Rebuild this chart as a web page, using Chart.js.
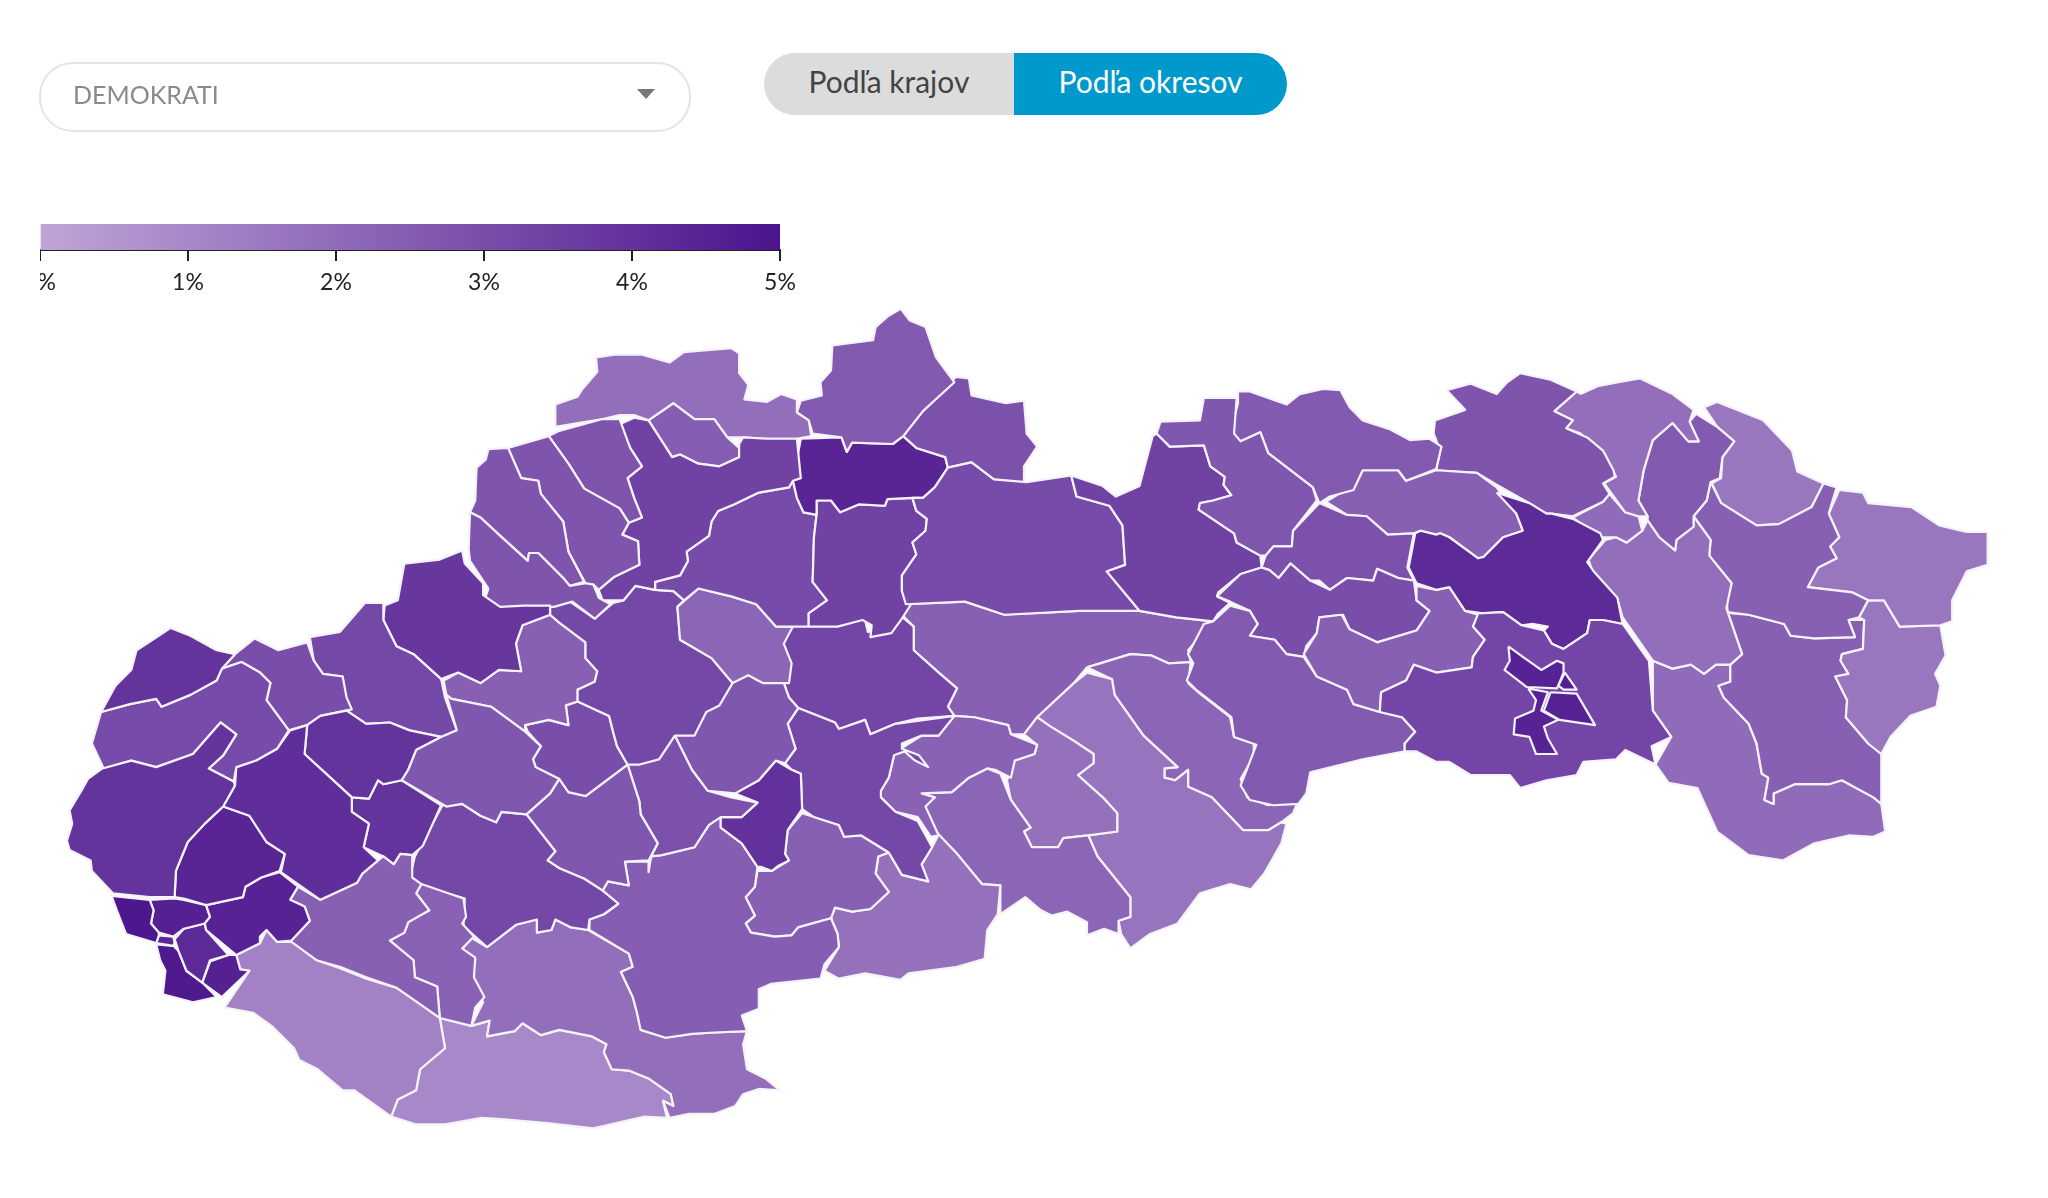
<!DOCTYPE html>
<html lang="sk">
<head>
<meta charset="utf-8">
<title>Demokrati podľa okresov</title>
<script src="https://cdn.jsdelivr.net/npm/chart.js@4"></script>
<style>
  html, body { margin: 0; padding: 0; background: #fff; width: 2048px; height: 1198px; overflow: hidden; font-family: Lato, sans-serif; }
  #mapChart { position: absolute; left: 0; top: 0; filter: blur(0.5px); }
  .select { position: absolute; left: 39px; top: 62px; width: 648px; height: 66px; border: 2px solid #e4e4e4; border-radius: 34px; color: #8a8a8a; font-size: 25px; line-height: 60px; text-indent: 32px; }
  .select::after { content: ""; position: absolute; left: 596px; top: 25px; border-left: 9px solid transparent; border-right: 9px solid transparent; border-top: 10px solid #777; }
  .toggle { position: absolute; left: 764px; top: 53px; width: 523px; height: 62px; border-radius: 31px; overflow: hidden; display: flex; font-size: 30px; line-height: 56px; text-align: center; }
  .toggle div:first-child { width: 250px; background: #dcdcdc; color: #444; }
  .toggle div:last-child { width: 273px; background: #0099cc; color: #fff; }
  #legendClip { position: absolute; left: 40px; top: 215px; width: 770px; height: 85px; overflow: hidden; }
  #legendChart { position: absolute; left: -30px; top: 0; }
</style>
</head>
<body>
<canvas id="mapChart" width="2048" height="1198"></canvas>
<div class="select">DEMOKRATI</div>
<div class="toggle"><div>Podľa krajov</div><div>Podľa okresov</div></div>
<div id="legendClip"><canvas id="legendChart" width="800" height="120"></canvas></div>
<script>
// Legend scale
const legendTicks = [0, 1, 2, 3, 4, 5];
const rampLow = [190, 165, 215];
const rampHigh = [75, 20, 140];

// Districts, their share (%) and outlines as x,y pairs in map units, top-most first
const districts = [
  'Košice I', 'Košice II', 'Košice III', 'Košice IV', 'Košice-okolie', 'Prešov-juh', 'Gelnica', 'Rožňava', 'Spišská Nová Ves', 'Levoča',
  'Kežmarok', 'Stará Ľubovňa', 'Sabinov', 'Prešov', 'Poprad', 'Liptovský Mikuláš', 'Bardejov', 'Svidník', 'Stropkov', 'Vranov nad Topľou',
  'Humenné', 'Medzilaborce', 'Snina', 'Sobrance', 'Michalovce', 'Trebišov', 'Malacky', 'Skalica', 'Senica', 'Trnava',
  'Pezinok', 'Senec', 'Bratislava IV', 'Bratislava III', 'Bratislava I', 'Bratislava II', 'Bratislava V', 'Bratislava VI', 'Dunajská Streda', 'Galanta',
  'Šaľa', 'Hlohovec', 'Piešťany', 'Leopoldov', 'Myjava', 'Nové Mesto nad Váhom', 'Trenčín', 'Ilava', 'Púchov', 'Považská Bystrica',
  'Bytča', 'Žilina', 'Kysucké Nové Mesto', 'Čadca', 'Námestovo', 'Tvrdošín', 'Dolný Kubín', 'Ružomberok', 'Martin', 'Turčianske Teplice',
  'Prievidza', 'Bánovce nad Bebravou', 'Partizánske', 'Nitra', 'Zlaté Moravce', 'Žarnovica', 'Žiar nad Hronom', 'Banská Štiavnica', 'Banská Bystrica', 'Brezno',
  'Levice', 'Nové Zámky', 'Komárno', 'Krupina', 'Veľký Krtíš', 'Detva', 'Lučenec', 'Poltár', 'Rimavská Sobota', 'Revúca', 'Zvolen'
];
const shares = [
  4.5, 4.6, 4.5, 4.5, 3.3, 4.2, 2.4, 2.6, 3.0, 2.9,
  2.7, 2.6, 2.4, 2.8, 3.4, 3.1, 1.9, 2.6, 2.0, 1.9,
  2.4, 1.6, 1.6, 1.6, 2.4, 2.0, 3.9, 3.9, 3.1, 4.1,
  4.4, 4.5, 4.9, 4.6, 4.3, 4.2, 4.8, 4.6, 1.2, 2.4,
  2.3, 2.7, 3.9, 3.9, 3.0, 3.2, 3.8, 2.8, 2.8, 2.8,
  2.8, 3.4, 2.5, 1.9, 2.6, 2.9, 4.4, 3.4, 3.1, 2.2,
  3.2, 2.4, 3.0, 3.2, 2.7, 2.9, 2.7, 4.0, 3.2, 3.3,
  2.5, 1.9, 1.0, 2.4, 1.8, 2.3, 2.2, 1.8, 1.7, 2.2, 2.4
];
const outlines = [
  [1149,492,1160,500,1174,510,1186,503,1191,505,1191,512,1186,524,1163,523,1146,510,1150,503],
  [1192,512,1201,525,1191,525,1187,522],
  [1181,527,1201,528,1215,552,1188,548,1176,541],
  [1164,524,1179,527,1174,541,1187,548,1176,553,1179,562,1186,574,1170,574,1165,561,1153,559,1154,547,1168,541,1170,533],
  [1051,542,1052,527,1071,518,1077,506,1094,512,1121,508,1122,500,1131,487,1122,477,1126,467,1145,466,1159,476,1176,480,1182,490,1191,494,1209,482,1211,472,1221,472,1236,475,1256,503,1259,541,1273,561,1258,568,1261,582,1238,571,1231,578,1206,580,1201,590,1178,594,1158,600,1150,590,1120,590,1104,580,1094,580,1079,572,1070,572,1070,566,1078,557,1068,546],
  [1140,375,1165,383,1178,391,1182,391,1198,395,1219,406,1221,411,1209,428,1214,435,1232,455,1236,475,1221,472,1211,472,1209,482,1191,494,1182,490,1176,480,1179,477,1168,475,1159,476,1145,466,1130,467,1116,465,1104,447,1094,449,1079,444,1073,432,1078,406,1082,404,1094,407,1097,406,1104,409,1126,425,1130,424,1145,409,1160,404,1155,391],
  [993,498,1003,482,1005,470,1022,468,1028,479,1049,489,1079,480,1089,465,1079,457,1079,446,1094,449,1104,447,1116,465,1126,468,1122,477,1131,487,1122,500,1121,508,1094,512,1077,506,1071,518,1052,527,1051,542,1031,536,1026,525,1003,515],
  [937,461,952,465,958,475,952,484,971,487,980,498,993,500,1003,515,1026,525,1031,536,1051,542,1068,546,1078,557,1070,566,1070,572,1038,578,998,588,995,604,989,612,970,613,952,609,945,598,957,567,940,561,938,546,911,525,904,518,909,505,905,498,917,475,924,473],
  [927,454,945,437,961,432,967,434,974,440,983,429,998,442,1013,449,1026,440,1046,442,1049,433,1065,440,1077,442,1079,457,1089,465,1079,480,1049,489,1028,479,1023,468,1005,470,1003,482,995,492,993,500,980,498,971,487,952,484,958,475,952,465,937,458],
  [1005,383,1026,392,1041,393,1057,407,1077,406,1072,432,1077,442,1065,440,1049,433,1046,442,1026,440,1013,449,1005,442,998,442,983,429,974,440,967,434,961,432,964,423,970,416,984,416,985,404],
  [881,330,884,321,914,320,917,303,942,303,940,330,945,336,960,329,966,345,1000,371,1003,381,985,404,984,416,970,416,964,423,960,423,942,413,940,406,913,388,914,383,924,381,938,377,932,369,933,363,922,355,917,339,891,340],
  [943,298,952,298,980,308,990,300,1008,296,1021,297,1028,310,1038,320,1059,327,1074,335,1089,334,1098,340,1094,357,1071,366,1065,358,1038,358,1031,373,1013,378,1005,383,1000,371,966,345,960,329,945,336,937,330,943,307],
  [1010,382,1033,368,1038,358,1065,358,1071,366,1094,358,1125,360,1140,371,1155,391,1160,404,1145,409,1130,424,1126,425,1104,409,1097,406,1094,407,1082,404,1077,406,1057,407,1041,393,1026,392],
  [1092,330,1093,320,1116,312,1102,297,1120,292,1140,300,1148,291,1158,284,1181,289,1201,298,1184,313,1198,320,1193,326,1209,333,1221,343,1229,358,1230,363,1221,368,1226,376,1221,382,1198,393,1182,391,1178,391,1165,383,1140,369,1125,360,1094,358,1097,343],
  [816,362,840,370,850,378,868,370,878,332,881,330,891,340,917,339,922,355,933,363,932,369,938,377,924,381,914,383,913,388,940,406,942,413,960,423,961,432,945,437,928,451,927,454,937,459,928,467,924,473,896,470,868,465,843,435,857,430,855,400,845,385,820,378],
  [722,356,740,352,757,365,782,367,816,362,820,378,845,385,855,400,857,430,843,435,868,465,822,465,765,468,735,458,690,460,687,450,687,438,698,422,695,413,705,404,706,395,698,389,695,379,703,379,712,371],
  [1204,300,1217,294,1233,291,1249,288,1274,300,1290,312,1287,321,1294,336,1286,336,1274,322,1259,335,1252,358,1248,381,1255,393,1248,393,1238,390,1222,368,1231,363,1222,345,1207,333,1204,330,1193,326,1198,320,1184,313,1201,298],
  [1274,322,1286,336,1294,336,1287,321,1292,315,1308,325,1321,336,1312,348,1310,364,1303,367,1300,381,1290,393,1290,401,1277,411,1276,419,1264,409,1255,396,1255,393,1248,381,1252,358,1259,335],
  [1198,394,1221,382,1226,376,1238,390,1248,393,1251,404,1239,413,1231,409,1219,409],
  [1223,411,1231,409,1239,413,1251,404,1255,396,1264,409,1276,419,1277,411,1290,401,1290,393,1303,411,1302,423,1319,444,1315,463,1327,498,1318,506,1307,506,1298,513,1288,506,1274,509,1259,503,1236,470,1232,456,1213,435,1210,426],
  [1303,367,1311,383,1338,400,1355,399,1380,386,1389,368,1399,371,1393,391,1401,409,1394,416,1399,425,1385,432,1377,447,1411,451,1423,457,1416,470,1408,472,1413,485,1382,486,1364,484,1359,475,1332,468,1316,466,1315,454,1319,444,1302,423,1303,411,1290,393,1300,381],
  [1298,310,1308,306,1343,320,1365,343,1369,359,1389,368,1380,386,1355,399,1338,400,1311,383,1304,368,1311,364,1312,348,1321,336,1308,325],
  [1401,373,1419,375,1423,383,1456,386,1477,400,1498,405,1514,405,1514,430,1498,435,1487,457,1487,473,1478,476,1447,477,1435,457,1423,457,1411,451,1377,447,1385,432,1399,425,1394,416,1401,409,1393,391],
  [1423,457,1435,457,1447,477,1478,476,1482,499,1474,513,1478,522,1475,538,1455,545,1440,561,1433,574,1423,566,1406,546,1407,533,1398,515,1408,513,1402,503,1403,498,1419,494,1420,472,1416,470],
  [1319,467,1332,468,1359,475,1364,484,1382,486,1413,485,1408,472,1420,472,1419,494,1403,498,1402,503,1408,513,1398,515,1407,533,1406,546,1423,566,1433,574,1433,612,1427,607,1403,594,1393,597,1367,597,1351,604,1351,612,1344,609,1347,592,1342,589,1338,566,1332,551,1313,531,1309,522,1318,519,1318,506,1327,498,1315,463],
  [1259,503,1274,509,1288,506,1298,513,1307,506,1318,506,1318,519,1309,522,1313,531,1332,551,1338,566,1342,589,1347,592,1344,609,1351,612,1351,604,1367,597,1393,597,1403,594,1427,607,1433,612,1436,633,1427,637,1408,636,1382,642,1358,655,1332,651,1308,633,1293,600,1271,596,1261,582,1273,561,1259,541],
  [78,585,100,579,119,584,147,574,168,550,180,559,170,575,159,585,178,595,179,598,170,614,156,627,143,641,134,663,133,683,114,683,86,680,70,663,69,655,53,647,51,640,55,627,53,617,62,602,67,593],
  [77,542,88,522,100,510,104,495,118,486,130,478,145,484,165,495,179,498,169,509,165,518,145,529,123,538,119,532,99,536],
  [77,542,99,536,119,532,123,538,145,529,165,518,169,509,184,504,198,512,206,520,203,533,220,556,211,570,195,579,180,584,178,595,159,585,170,575,180,559,168,550,147,574,119,584,100,579,79,585,70,566],
  [234,552,232,574,268,607,268,618,281,627,277,645,288,655,276,665,272,672,244,685,214,664,217,650,203,641,190,621,170,614,179,598,180,584,195,579,211,570,221,556],
  [170,614,190,621,203,641,217,650,213,663,199,668,187,675,185,683,157,689,140,684,133,683,134,663,143,641,156,627],
  [213,664,227,675,221,685,232,690,236,701,222,716,211,717,203,708,198,713,198,718,180,727,157,708,156,703,160,698,157,689,185,683,187,675,199,668],
  [85,682,114,685,117,693,115,703,121,710,121,712,119,718,96,711,89,693],
  [117,693,114,685,133,684,140,685,157,689,160,698,156,703,140,707,132,713,121,710,115,703],
  [121,712,132,713,133,718,132,720,119,718],
  [133,715,140,707,156,703,157,708,174,727,160,731,154,748,142,739,136,724],
  [119,719,132,720,136,724,142,739,154,748,165,759,147,763,124,757,126,739,122,731],
  [160,732,174,727,180,727,183,738,190,739,169,759,154,748],
  [171,767,190,739,183,738,180,727,198,718,203,708,211,717,222,717,241,731,259,737,279,745,302,752,322,766,335,775,339,798,320,814,317,830,303,837,298,850,270,830,261,830,242,814,228,807,224,798,208,782,193,771],
  [227,675,244,685,272,672,276,665,288,655,292,652,300,658,305,650,314,651,314,668,321,673,317,680,327,693,311,702,308,710,297,716,315,731,316,744,333,751,335,775,302,752,279,744,259,736,241,731,221,717,236,701,232,690,221,685],
  [321,673,353,684,355,698,352,703,361,713,352,722,362,729,361,744,369,759,362,767,359,781,335,775,333,751,316,744,315,731,297,716,308,710,311,702,327,693,317,680],
  [340,529,344,532,374,538,400,557,412,568,406,578,408,584,426,593,419,604,401,620,382,618,378,626,366,621,352,612,340,614,306,594,311,586,317,571,336,561,348,556],
  [234,552,244,545,264,541,279,551,297,550,312,556,336,561,317,571,311,586,306,594,292,597,288,594,281,608,268,607,232,574],
  [306,594,336,613,322,644,314,651,305,650,300,658,292,652,277,645,281,627,268,618,268,607,281,608,288,594,292,597],
  [179,498,194,486,212,495,234,489,239,503,246,513,261,515,264,531,268,540,244,545,234,552,220,556,203,533,206,520,198,512,184,504,169,509],
  [236,485,259,481,278,459,292,459,292,472,302,492,315,498,336,517,339,531,348,556,336,561,312,556,297,550,279,551,264,541,261,515,246,513,239,503],
  [293,461,303,457,308,429,335,426,352,419,354,429,368,444,368,453,381,462,399,461,419,461,419,468,398,476,393,490,397,511,380,510,366,520,349,512,336,517,315,498,302,492,292,472],
  [358,390,366,394,380,407,402,427,403,421,410,421,429,440,434,446,446,444,452,445,456,455,465,460,453,471,436,458,422,462,402,462,385,466,369,457,372,448,358,427,357,418],
  [372,342,387,341,397,364,410,366,412,376,429,397,433,420,445,443,434,446,429,440,410,421,403,421,402,427,380,407,366,394,358,390,362,381,363,356,370,350],
  [387,341,418,332,433,353,445,372,472,387,479,398,474,407,486,412,487,430,468,439,456,449,452,445,446,444,433,420,429,397,412,376,410,366,397,364],
  [418,332,426,328,459,319,472,319,480,341,489,355,478,364,483,379,489,394,479,398,472,387,445,372,433,353],
  [472,323,483,318,494,320,512,348,518,346,532,353,548,355,563,348,563,338,566,333,584,334,607,334,610,364,604,366,601,371,578,375,559,384,547,389,542,397,540,408,523,420,524,427,518,438,499,443,499,449,484,446,475,457,459,457,456,449,468,439,487,430,486,412,474,407,479,398,489,394,483,379,478,364,489,355,480,341],
  [494,320,513,307,529,319,544,319,554,333,563,341,563,348,548,355,532,353,518,346,512,348],
  [423,325,423,308,440,302,443,297,455,283,454,272,468,270,489,270,510,276,521,268,557,265,563,269,563,284,570,293,567,304,584,306,595,300,607,304,607,314,616,320,618,332,607,334,584,334,566,333,554,333,544,319,529,319,513,307,494,320,483,316,472,316,459,319],
  [610,305,626,301,625,291,633,282,634,263,665,259,667,249,676,241,686,235,693,244,705,249,713,272,727,291,703,313,688,332,680,338,649,337,645,344,641,333,619,330,616,320,607,314],
  [728,287,738,288,740,301,766,307,780,305,782,330,790,340,780,355,780,368,757,365,740,352,722,356,720,348,698,341,688,332,703,313],
  [610,334,641,333,645,344,649,337,680,338,688,332,698,341,720,348,722,356,712,371,703,379,695,379,676,380,674,385,654,384,640,390,633,381,622,381,622,392,612,390,607,379,604,366],
  [622,392,622,381,633,381,640,390,654,384,674,385,676,380,695,379,698,389,706,395,705,404,695,413,698,422,687,438,687,450,694,460,687,471,679,482,663,485,664,476,657,472,638,477,616,477,616,467,630,457,619,443,620,409],
  [604,366,607,379,612,390,622,392,620,409,619,443,630,457,616,467,616,477,606,477,591,477,576,460,557,454,532,448,521,457,513,450,499,449,499,443,518,438,524,427,523,420,540,408,542,397,547,389,559,384,578,375,601,371],
  [532,448,557,454,576,460,591,477,604,477,597,490,603,505,601,520,581,520,570,514,558,520,542,501,518,487,516,462],
  [419,461,434,458,453,471,467,459,475,457,484,446,499,449,513,450,521,457,516,462,518,487,542,501,558,520,548,537,538,542,529,560,514,560,502,578,487,582,478,582,470,568,467,557,464,545,440,534,440,525,453,519,455,511,446,501,446,489,426,474,419,468],
  [338,518,349,512,366,520,380,510,397,511,393,490,398,476,419,468,426,474,446,489,446,501,455,511,453,519,440,525,440,534,431,537,433,552,418,548,400,552,400,557,374,538,344,532,340,529],
  [440,534,464,545,467,557,470,568,478,582,446,606,433,603,426,593,408,584,406,578,412,568,402,557,400,552,418,548,433,552,431,537],
  [337,613,352,612,366,621,378,626,382,618,401,620,423,648,417,655,426,661,445,669,459,678,471,688,460,696,449,700,448,708,435,706,423,700,420,708,409,710,409,700,393,704,371,721,353,705,354,684,320,674,312,669,316,652],
  [401,620,419,604,426,593,433,603,446,606,478,582,487,610,488,620,501,642,494,655,476,656,479,674,463,671,459,678,445,669,426,661,417,655,423,648],
  [478,582,487,582,502,578,514,560,527,586,539,602,557,607,577,611,565,622,549,622,540,628,529,645,504,651,496,652,501,642,488,620,487,610],
  [556,519,565,510,577,518,596,517,601,531,608,539,600,551,606,570,598,581,591,579,578,594,560,604,539,602,527,586,514,560,527,556,537,534],
  [591,579,603,586,610,589,611,616,600,632,598,650,601,655,593,659,588,663,580,660,577,660,565,642,549,630,549,622,565,622,577,611,560,604,578,594],
  [608,539,636,550,639,555,659,548,663,559,682,551,727,545,715,560,702,560,687,566,687,570,700,575,707,584,697,579,689,572,681,575,677,592,671,602,671,607,682,618,699,625,710,645,702,658,707,671,687,666,677,649,656,636,643,637,639,628,620,622,611,616,610,589,603,586,598,581,606,570,600,551],
  [601,472,613,475,649,468,659,472,661,481,677,477,684,467,696,477,696,495,715,512,729,524,722,538,727,545,699,547,682,551,663,559,659,548,639,555,636,550,608,539,601,531,596,517,600,508,593,485],
  [471,688,459,678,463,671,479,674,476,656,494,656,494,664,496,652,504,651,529,645,540,628,549,622,549,630,565,642,577,660,575,675,568,683,575,697,568,703,572,710,590,713,603,712,608,706,633,699,638,711,639,721,628,734,625,745,587,749,578,753,578,768,565,773,569,785,544,786,527,787,507,790,488,784,485,770,482,759,473,740,482,736,479,726,449,708,449,700,460,696],
  [371,721,393,704,409,700,409,710,420,708,423,700,435,706,448,708,479,726,482,736,473,740,482,759,485,770,488,784,507,790,527,787,544,786,569,785,566,795,569,814,583,821,594,830,578,829,566,833,560,842,544,848,525,848,510,851,505,838,513,842,511,833,494,821,479,815,466,814,460,801,462,795,451,789,426,784,412,788,398,779,392,785,371,789,373,777,359,781,368,763,359,746,362,731,351,724,359,714],
  [335,775,359,781,373,777,371,789,392,785,398,779,412,788,426,784,451,789,462,795,460,801,466,814,479,815,494,821,511,833,513,842,505,838,508,851,491,850,452,859,417,855,382,852,367,851,339,856,317,856,298,850,303,837,317,830,320,814,339,798],
  [577,663,588,663,601,655,598,650,600,632,611,619,620,622,639,628,643,637,656,636,677,649,669,652,667,665,677,679,663,692,649,694,636,691,633,699,608,706,603,712,590,713,572,710,568,703,575,697,568,683,575,675],
  [677,649,687,666,707,671,702,658,710,645,715,635,729,650,748,673,762,674,760,696,752,708,750,730,729,736,692,741,686,746,659,741,639,745,628,739,639,721,638,711,633,699,636,691,649,694,663,692,677,679,667,665,669,652],
  [686,570,702,560,715,560,727,545,742,546,768,552,770,559,790,567,788,574,773,579,770,592,758,586,752,585,738,592,725,603,702,604,712,607,705,614,715,636,709,637,699,622,682,618,671,607,671,602,677,592,681,575],
  [704,614,712,607,702,604,725,603,738,592,752,585,762,589,770,609,785,630,780,633,786,645,806,645,810,638,829,636,836,652,861,683,861,698,852,701,852,711,841,707,828,712,828,702,813,694,801,697,793,693,781,683,762,696,762,674,748,673,729,650,715,636],
  [780,559,790,546,800,553,818,564,833,574,833,581,821,590,841,608,851,619,851,633,829,636,810,638,806,645,786,645,780,633,785,630,770,609,767,594,773,579,788,574,790,567],
  [790,546,818,520,828,512,847,517,849,529,871,560,897,584,887,585,887,592,895,594,905,586,905,599,923,607,947,632,966,632,976,626,980,627,976,642,963,665,953,677,937,673,914,680,897,703,876,711,861,722,854,711,852,701,861,698,861,683,836,652,829,636,851,633,851,619,841,608,821,590,833,581,833,574,818,564,800,553],
  [828,508,838,505,861,498,877,499,890,505,907,504,905,520,914,528,937,546,940,561,955,566,955,576,945,593,950,607,966,613,989,609,985,619,976,626,966,632,947,632,923,607,905,599,905,586,895,594,887,592,887,585,897,584,871,560,849,529,847,517],
  [686,467,690,460,735,458,765,468,822,465,868,465,896,470,924,473,905,495,907,504,890,505,877,499,861,498,838,505,828,508,818,520,790,546,780,559,770,559,768,552,742,546,727,545,722,538,729,524,715,512,696,495,696,477]
];

// share -> fill colour, same ramp as the legend bar
function shareColor(v) {
  const t = v / 5;
  const c = rampLow.map((low, i) => Math.round(low + (rampHigh[i] - low) * t));
  return `rgb(${c[0]},${c[1]},${c[2]})`;
}

function toPoints(flat) {
  const pts = [];
  for (let i = 0; i < flat.length; i += 2) pts.push({ x: flat[i], y: flat[i + 1] });
  pts.push({ x: flat[0], y: flat[1] });
  return pts;
}

new Chart(document.getElementById('mapChart'), {
  type: 'scatter',
  data: {
    datasets: districts.map((name, i) => ({
      label: name,
      data: toPoints(outlines[i]),
      showLine: true,
      fill: 'shape',
      tension: 0,
      pointRadius: 0,
      backgroundColor: shareColor(shares[i]),
      borderColor: '#f6f2fa',
      borderWidth: 2.2,
      borderJoinStyle: 'round'
    }))
  },
  options: {
    responsive: false,
    animation: false,
    devicePixelRatio: 1,
    layout: { padding: 0 },
    plugins: { legend: { display: false }, tooltip: { enabled: false } },
    scales: {
      x: { type: 'linear', min: 0, max: 1560, display: false },
      y: { type: 'linear', min: 0, max: 912, reverse: true, display: false }
    }
  }
});

// Colour legend: one bar over a 0-5 % axis
new Chart(document.getElementById('legendChart'), {
  type: 'bar',
  data: {
    labels: ['share'],
    datasets: [{
      data: [legendTicks[legendTicks.length - 1]],
      barPercentage: 1,
      categoryPercentage: 1,
      backgroundColor: (ctx) => {
        const { chartArea, ctx: c } = ctx.chart;
        if (!chartArea) return shareColor(2.5);
        const g = c.createLinearGradient(chartArea.left, 0, chartArea.right, 0);
        g.addColorStop(0, shareColor(0));
        g.addColorStop(1, shareColor(5));
        return g;
      }
    }]
  },
  options: {
    indexAxis: 'y',
    responsive: false,
    animation: false,
    devicePixelRatio: 1,
    layout: { autoPadding: false, padding: { left: 30, right: 30, top: 9, bottom: 39 } },
    plugins: { legend: { display: false }, tooltip: { enabled: false } },
    scales: {
      y: { display: false },
      x: {
        type: 'linear',
        min: 0,
        max: 5,
        afterBuildTicks: (axis) => { axis.ticks = legendTicks.map((value) => ({ value })); },
        // the axis is taller than the bar, so lift the half-height limit
        afterFit: (axis) => { axis.height = 46; },
        border: { color: '#222', width: 2 },
        grid: { drawOnChartArea: false, color: '#222', tickLength: 11, lineWidth: 2 },
        ticks: {
          color: '#222',
          padding: 8,
          maxRotation: 0,
          font: { family: 'Lato', size: 23 },
          callback: (v) => v + '%'
        }
      }
    }
  }
});
</script>
</body>
</html>
